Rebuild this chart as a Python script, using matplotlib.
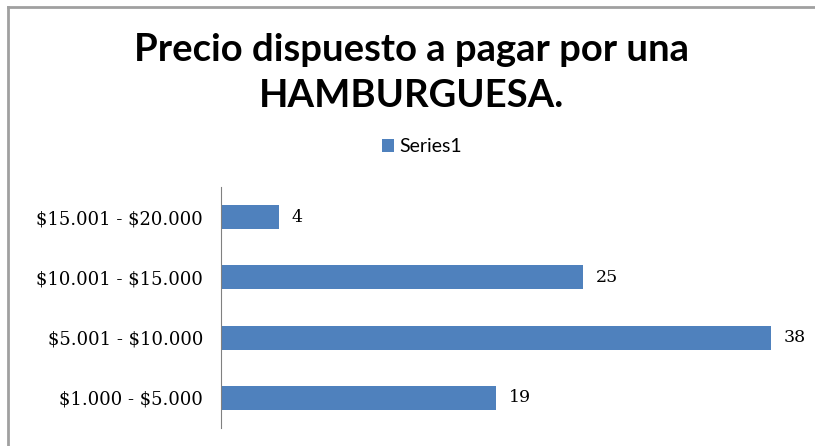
import matplotlib.pyplot as plt
from matplotlib.lines import Line2D

# rangos de precio y número de respuestas
rangos = [r"\$1.000 - \$5.000", r"\$5.001 - \$10.000", r"\$10.001 - \$15.000", r"\$15.001 - \$20.000"]
respuestas = [19, 38, 25, 4]
serie = "Series1"

BAR_COLOR = "#4F81BD"

W, H = 815, 446
fig = plt.figure(figsize=(W / 100, H / 100), dpi=100)

# marco gris superior e izquierdo
fig.add_artist(Line2D([8 / W, 8 / W], [0, 1 - 7 / H], transform=fig.transFigure,
                      color="#A0A0A0", linewidth=2))
fig.add_artist(Line2D([8 / W, 1], [1 - 7 / H, 1 - 7 / H], transform=fig.transFigure,
                      color="#A0A0A0", linewidth=2))

ax = fig.add_axes([221 / W, 1 - 428 / H, (800 - 221) / W, (428 - 187) / H])
bars = ax.barh(range(len(rangos)), respuestas, height=0.4, color=BAR_COLOR, label=serie)

ax.set_xlim(0, 40)
ax.set_ylim(-0.5, len(rangos) - 0.5)
ax.set_yticks(range(len(rangos)))
ax.set_yticklabels(rangos, fontsize=13, family="DejaVu Serif")
ax.tick_params(axis="y", length=0, pad=13)
ax.set_xticks([])
for spine in ["top", "right", "bottom"]:
    ax.spines[spine].set_visible(False)
ax.spines["left"].set_color("#808080")

for b, v in zip(bars, respuestas):
    ax.text(b.get_width() + 0.9, b.get_y() + b.get_height() / 2, f"{v}",
            ha="left", va="center", fontsize=12.5, family="DejaVu Serif")

fig.text(0.505, 1 - 50 / H, "Precio dispuesto a pagar por una", ha="center", va="center",
         fontsize=27.5, fontweight="bold", family="Lato")
fig.text(0.505, 1 - 96 / H, "HAMBURGUESA.", ha="center", va="center",
         fontsize=27.5, fontweight="bold", family="Lato")

fig.legend(handles=[bars], labels=[serie], loc="center", bbox_to_anchor=(0.518, 1 - 147 / H),
           frameon=False, prop={"family": "Lato", "size": 14},
           handlelength=0.6, handleheight=0.6, handletextpad=0.3)

fig.savefig("out.png", dpi=100)
